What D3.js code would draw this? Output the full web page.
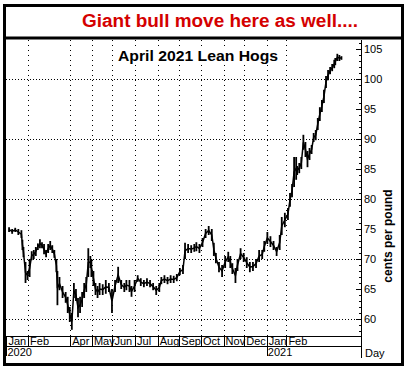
<!DOCTYPE html>
<html>
<head>
<meta charset="utf-8">
<script src="https://cdn.jsdelivr.net/npm/d3@7"></script>
<style>
  body { margin: 0; background: #fff; }
  svg { display: block; }
</style>
</head>
<body>
<div id="chart"></div>
<script>
// trading day index (0 = first session of Jan 2020) with high / low of the bar
const days = [2,5,8,11,14,15,16,18,20,22,24,26,28,30,32,34,36,38,40,42,44,46,48,49,51,54,57,59,61,63,
  65,67,69,71,73,75,77,79,81,82,84,86,88,90,93,96,99,102,105,108,111,114,116,119,121,124,127,130,133,136,
  139,142,145,148,150,153,156,159,162,165,168,171,173,176,179,182,184,187,190,193,196,199,201,203,206,209,212,215,217,219,
  222,224,227,230,233,236,239,242,245,248,250,253,256,259,262,265,267,270,273,275,277,279,281,282,284,286,288,290,292,294,
  296,298,300,302,304,306,308,310,312,314,316,318,319,321,323,325];
const highs = [75.3,75.0,75.2,75.0,74.8,73.2,72.0,69.5,68.0,70.0,71.3,71.5,72.0,72.6,73.3,72.8,72.5,71.5,72.5,73.0,72.3,71.5,70.0,68.0,67.0,65.5,64.5,63.7,62.0,61.0,
  66.0,65.0,63.5,63.7,64.5,66.0,67.0,71.8,70.5,70.0,68.0,66.0,65.5,66.0,65.8,66.5,66.0,65.0,66.5,68.7,66.5,66.0,66.5,66.5,65.5,66.5,67.3,66.8,66.5,66.8,
  66.5,66.0,65.5,66.0,67.0,67.3,67.0,67.3,67.2,67.5,68.5,69.0,72.7,72.5,72.3,72.5,72.8,72.5,73.5,75.0,75.5,75.0,72.7,71.0,69.5,69.0,70.5,71.2,70.5,69.3,
  68.5,70.0,71.8,71.0,70.3,69.5,69.5,70.0,71.5,71.5,73.0,74.5,73.8,73.0,72.0,74.0,77.0,77.7,78.5,81.0,82.5,87.0,87.0,85.5,86.0,87.0,90.7,89.5,88.0,88.5,
  89.0,91.0,91.5,93.5,95.3,96.5,98.2,100.5,101.5,102.0,102.5,103.2,103.5,104.2,104.0,103.8];
const lows = [74.5,74.2,74.5,74.0,73.5,71.5,70.3,66.0,66.5,67.0,69.8,70.0,70.5,71.5,71.8,71.8,70.8,70.3,71.0,71.5,71.0,70.2,67.8,62.3,64.8,63.5,62.7,61.0,59.5,58.2,
  63.5,63.0,60.3,61.0,62.0,63.5,64.5,67.0,68.5,67.0,65.5,64.0,63.5,64.0,64.0,64.2,64.5,61.0,64.5,66.0,65.0,64.5,64.8,64.5,63.7,64.5,66.2,65.5,65.3,65.5,
  65.3,64.8,64.0,64.5,65.8,66.0,65.8,66.0,66.0,66.3,67.3,67.5,70.0,71.0,71.0,71.2,71.3,71.0,72.0,73.5,74.0,73.0,70.5,69.3,67.8,67.0,68.5,69.5,68.5,67.5,
  66.0,68.0,70.0,69.5,68.5,67.8,68.0,68.5,69.5,70.0,71.2,72.5,72.0,71.5,70.5,71.5,74.0,75.3,76.5,78.7,80.3,82.0,83.2,84.0,84.3,85.0,88.2,87.0,85.3,86.5,
  87.5,89.5,89.8,91.5,93.0,94.5,96.0,98.5,99.8,100.8,101.3,101.8,102.3,103.0,103.0,103.2];

// month separators (first trading day of each labelled month) and their labels
const monthDays = [0,21,62,83,103,125,147,168,189,211,231,253,272];
const monthNames = ["Jan","Feb","Apr","May","Jun","Jul","Aug","Sep","Oct","Nov","Dec","Jan","Feb"];
const yearDays = [0,253];
const yearNames = ["2020","2021"];
const yLabels = [60,65,70,75,80,85,90,95,100,105];
const yGrid = [60,70,80,90,100];

const W = 405, H = 369;
const plotLeft = 6, axisX = 361, plotTop = 40, plotBottom = 336;

const svg = d3.select("#chart").append("svg")
  .attr("width", W).attr("height", H)
  .style("font-family", "Arial, 'Liberation Sans', sans-serif");

const x = d3.scaleLinear().domain([0, 344]).range([7, axisX]);
const y = d3.scaleLinear().domain([60, 100]).range([319, 79]);

// dotted grid
svg.append("g").selectAll("line")
  .data(yGrid)
  .join("line")
    .attr("x1", plotLeft).attr("x2", axisX)
    .attr("y1", d => Math.round(y(d)) + 0.5).attr("y2", d => Math.round(y(d)) + 0.5)
    .attr("stroke", "#000").attr("stroke-dasharray", "1,2");

svg.append("g").selectAll("line")
  .data(monthDays.slice(1))
  .join("line")
    .attr("x1", d => Math.round(x(d - 0.5)) + 0.5).attr("x2", d => Math.round(x(d - 0.5)) + 0.5)
    .attr("y1", plotTop).attr("y2", plotBottom)
    .attr("stroke", "#000").attr("stroke-dasharray", "1,4");

// sub title with white box behind
const sub = svg.append("g");
const subText = sub.append("text")
  .attr("x", 198).attr("y", 61)
  .attr("text-anchor", "middle")
  .attr("font-weight", "bold").attr("font-size", 15)
  .attr("textLength", 160).attr("lengthAdjust", "spacingAndGlyphs")
  .text("April 2021 Lean Hogs");
const bb = subText.node().getBBox();
sub.insert("rect", "text")
  .attr("x", bb.x - 2).attr("y", bb.y).attr("width", bb.width + 4).attr("height", bb.height)
  .attr("fill", "#fff");

// price bars
const bars = days.map((d, i) => ({ d, hi: highs[i], lo: lows[i] }));
svg.append("path")
  .datum(bars)
  .attr("fill", "none").attr("stroke", "#000").attr("stroke-width", 1.5)
  .attr("d", d3.line()
    .x(b => x(b.d))
    .y(b => y((b.hi + b.lo) / 2)));

svg.append("g").selectAll("line")
  .data(bars)
  .join("line")
    .attr("x1", b => x(b.d)).attr("x2", b => x(b.d))
    .attr("y1", b => y(b.hi)).attr("y2", b => y(b.lo))
    .attr("stroke", "#000").attr("stroke-width", 1.8);

// right axis: minor ticks every cent, longer ones at labels
svg.append("g")
  .attr("transform", `translate(${axisX},0)`)
  .call(d3.axisLeft(y).tickValues(d3.range(58, 107)).tickSize(2).tickFormat(""))
  .call(g => g.select(".domain").remove());
svg.append("g")
  .attr("transform", `translate(${axisX},0)`)
  .call(d3.axisRight(y).tickValues(yLabels).tickSize(0).tickPadding(3))
  .call(g => g.select(".domain").remove())
  .call(g => g.selectAll(".tick line").clone().attr("x2", -5).attr("stroke", "#000"))
  .call(g => g.selectAll("text").attr("font-size", 11).attr("font-family", "Arial, 'Liberation Sans', sans-serif"));
svg.append("line")
  .attr("x1", axisX + 0.5).attr("x2", axisX + 0.5)
  .attr("y1", plotTop).attr("y2", 358)
  .attr("stroke", "#000");

svg.append("text")
  .attr("transform", `translate(392,${(plotTop + plotBottom) / 2 + 48}) rotate(-90)`)
  .attr("text-anchor", "middle")
  .attr("font-size", 12).attr("font-weight", "bold")
  .text("cents per pound");

// date band
const band = svg.append("g");
band.append("rect")
  .attr("x", plotLeft).attr("y", plotBottom).attr("width", axisX - plotLeft).attr("height", 22)
  .attr("fill", "#fff");
[plotBottom + 0.5, plotBottom + 10.5].forEach(v =>
  band.append("line").attr("x1", plotLeft).attr("x2", axisX).attr("y1", v).attr("y2", v).attr("stroke", "#000"));

band.selectAll(".msep")
  .data(monthDays)
  .join("line")
    .attr("class", "msep")
    .attr("x1", d => Math.round(x(d - 0.5)) + 0.5).attr("x2", d => Math.round(x(d - 0.5)) + 0.5)
    .attr("y1", plotBottom).attr("y2", d => yearDays.includes(d) ? plotBottom + 20 : plotBottom + 10)
    .attr("stroke", "#000");

band.selectAll(".mlab")
  .data(monthDays)
  .join("text")
    .attr("class", "mlab")
    .attr("x", d => x(d - 0.5) + 2).attr("y", plotBottom + 9)
    .attr("font-size", 11)
    .text((d, i) => monthNames[i]);

band.selectAll(".ylab")
  .data(yearDays)
  .join("text")
    .attr("class", "ylab")
    .attr("x", d => x(d - 0.5) + 1).attr("y", plotBottom + 20)
    .attr("font-size", 11)
    .text((d, i) => yearNames[i]);

svg.append("text")
  .attr("x", 365).attr("y", 357)
  .attr("font-size", 11)
  .text("Day");

// frame and headline
svg.append("rect")
  .attr("x", 4.5).attr("y", 5.5).attr("width", 398).attr("height", 359)
  .attr("fill", "none").attr("stroke", "#000").attr("stroke-width", 3);
svg.append("line")
  .attr("x1", 4).attr("x2", 403).attr("y1", 38).attr("y2", 38)
  .attr("stroke", "#000").attr("stroke-width", 3);
svg.append("text")
  .attr("x", 220).attr("y", 27)
  .attr("text-anchor", "middle")
  .attr("fill", "#d40000")
  .attr("font-weight", "bold").attr("font-size", 18)
  .attr("textLength", 276).attr("lengthAdjust", "spacingAndGlyphs")
  .text("Giant bull move here as well....");
</script>
</body>
</html>
